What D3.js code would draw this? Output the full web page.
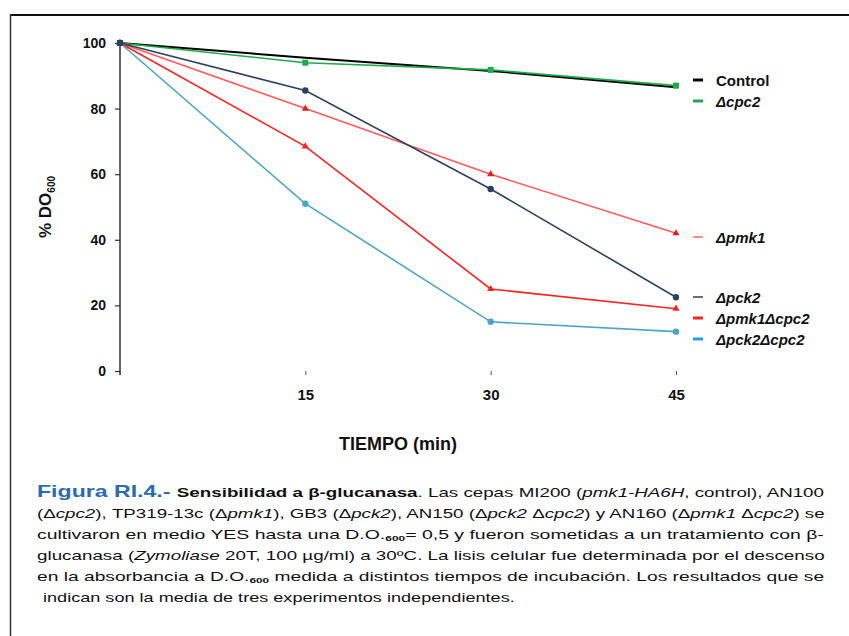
<!DOCTYPE html>
<html><head><meta charset="utf-8">
<script src="https://cdn.jsdelivr.net/npm/d3@7/dist/d3.min.js"></script>
<style>body{margin:0;background:#fff}svg{display:block}</style>
</head><body>
<script>
const times = [0, 15, 30, 45];
const xTickLabels = [15, 30, 45];
const yTicks = [0, 20, 40, 60, 80, 100];
const seriesNames = ["Control", "Δcpc2", "Δpmk1", "Δpck2", "Δpmk1Δcpc2", "Δpck2Δcpc2"];
const control = [100, 95.5, 91.5, 86.5];
const cpc2 = [100, 94, 91.8, 87];
const pmk1 = [100, 80, 60, 42];
const pck2 = [100, 85.5, 55.5, 22.5];
const pmk1cpc2 = [100, 68.5, 25, 19];
const pck2cpc2 = [100, 51, 15, 12];
const seriesValues = [control, cpc2, pmk1, pck2, pmk1cpc2, pck2cpc2];
const lineColors = ["#000000", "#1faa4a", "#ff5a5a", "#2c4360", "#ff2020", "#4aa6c6"];
const legendColors = ["#000000", "#1faa4a", "#ff6a6a", "#2c4360", "#ff2020", "#14a8e6"];
const markerShapes = ["none", "square", "triangle", "circle", "triangle", "circle"];

const W = 849, H = 636;
const svg = d3.select("body").append("svg").attr("width", W).attr("height", H);

// frame
svg.append("line").attr("x1", 10).attr("x2", W).attr("y1", 15).attr("y2", 15).attr("stroke", "#111").attr("stroke-width", 2.2);
svg.append("line").attr("x1", 10.5).attr("x2", 10.5).attr("y1", 14).attr("y2", H).attr("stroke", "#333").attr("stroke-width", 1.5);

const x = d3.scaleLinear().domain([0, 45]).range([120, 676]);
const y = d3.scaleLinear().domain([0, 100]).range([371, 43]);

// y axis
const yAx = svg.append("g").attr("transform", "translate(120,0)")
  .call(d3.axisLeft(y).tickValues(yTicks).tickSize(5).tickPadding(9).tickFormat(d3.format("d")));
yAx.select(".domain").attr("stroke", "#333").attr("stroke-width", 1.5).attr("d", `M0,${y(100)}V${y(0)+4}`);
yAx.selectAll(".tick line").attr("stroke", "#333").attr("stroke-width", 1.2);
yAx.selectAll("text").attr("font-family", "Liberation Sans, Arial, sans-serif").attr("font-weight", "bold").attr("font-size", 14).attr("fill", "#111");

// x axis (ticks only)
const xAx = svg.append("g").attr("transform", `translate(0,${y(0)})`)
  .call(d3.axisBottom(x).tickValues(times).tickSize(4).tickPadding(14).tickFormat(d => xTickLabels.includes(d) ? d : ""));
xAx.select(".domain").remove();
xAx.selectAll(".tick line").attr("stroke", "#555").attr("stroke-width", 1);
xAx.selectAll("text").attr("font-family", "Liberation Sans, Arial, sans-serif").attr("font-weight", "bold").attr("font-size", 15).attr("fill", "#111");

// axis titles
const yt = svg.append("text").attr("transform", "translate(51,207) rotate(-90)")
  .attr("text-anchor", "middle").attr("font-family", "Liberation Sans, Arial, sans-serif")
  .attr("font-weight", "bold").attr("font-size", 17).attr("fill", "#111");
yt.append("tspan").text("% DO");
yt.append("tspan").attr("font-size", 10).attr("dy", 4).text("600");

svg.append("text").attr("x", 398).attr("y", 450).attr("text-anchor", "middle")
  .attr("font-family", "Liberation Sans, Arial, sans-serif").attr("font-weight", "bold")
  .attr("font-size", 18).attr("fill", "#111").text("TIEMPO (min)");

// lines
const line = d3.line().x((d, i) => x(times[i])).y(d => y(d));
seriesValues.forEach((vals, s) => {
  svg.append("path").datum(vals).attr("d", line).attr("fill", "none")
    .attr("stroke", lineColors[s]).attr("stroke-width", s === 0 ? 2 : 1.6);
});
// markers
seriesValues.forEach((vals, s) => {
  const shape = markerShapes[s];
  if (shape === "none") return;
  const g = svg.append("g");
  vals.forEach((v, i) => {
    const cx = x(times[i]), cy = y(v);
    if (shape === "square") g.append("rect").attr("x", cx - 3).attr("y", cy - 3).attr("width", 6).attr("height", 6).attr("fill", lineColors[s]);
    else if (shape === "circle") g.append("circle").attr("cx", cx).attr("cy", cy).attr("r", 3.2).attr("fill", lineColors[s]);
    else g.append("path").attr("d", d3.symbol(d3.symbolTriangle, 22)()).attr("transform", `translate(${cx},${cy})`).attr("fill", s === 2 ? "#d22" : lineColors[s]);
  });
});
// start marker
svg.append("rect").attr("x", x(0) - 3).attr("y", y(100) - 3).attr("width", 6).attr("height", 6).attr("fill", "#2c4360");

// legend
const legY = [80, 101, 237, 297, 318, 339];
const legFont = "Liberation Sans, Arial, sans-serif";
seriesNames.forEach((n, i) => {
  svg.append("line").attr("x1", 693).attr("x2", 703).attr("y1", legY[i]).attr("y2", legY[i])
    .attr("stroke", legendColors[i]).attr("stroke-width", i === 0 || i === 1 || i === 4 || i === 5 ? 3 : 1.5);
  svg.append("text").attr("x", 716).attr("y", legY[i] + 5.5)
    .attr("font-family", legFont).attr("font-weight", "bold").attr("font-size", 15)
    .attr("font-style", i === 0 ? "normal" : "italic").attr("fill", "#111").text(n);
});

// caption
const capLines = [
  [["Figura RI.4.- ", "bold", "normal", "#2b6cb0", 16], ["Sensibilidad a β-glucanasa", "bold", "normal", "#111"], [". Las cepas MI200 (", "normal", "normal"], ["pmk1-HA6H", "normal", "italic"], [", control), AN100", "normal", "normal"]],
  [["(Δ", "normal", "normal"], ["cpc2", "normal", "italic"], ["), TP319-13c (Δ", "normal", "normal"], ["pmk1", "normal", "italic"], ["), GB3 (Δ", "normal", "normal"], ["pck2", "normal", "italic"], ["), AN150 (Δ", "normal", "normal"], ["pck2", "normal", "italic"], [" Δ", "normal", "normal"], ["cpc2", "normal", "italic"], [") y AN160 (Δ", "normal", "normal"], ["pmk1", "normal", "italic"], [" Δ", "normal", "normal"], ["cpc2", "normal", "italic"], [") se", "normal", "normal"]],
  [["cultivaron en medio YES hasta una D.O.", "normal", "normal"], ["600", "bold", "normal", null, 8, 2], ["= 0,5 y fueron sometidas a un tratamiento con β-", "normal", "normal", null, null, -2]],
  [["glucanasa (", "normal", "normal"], ["Zymoliase", "normal", "italic"], [" 20T, 100 µg/ml) a 30ºC. La lisis celular fue determinada por el descenso", "normal", "normal"]],
  [["en la absorbancia a D.O.", "normal", "normal"], ["600", "bold", "normal", null, 8, 2], [" medida a distintos tiempos de incubación. Los resultados que se", "normal", "normal", null, null, -2]],
  [["indican son la media de tres experimentos independientes.", "normal", "normal"]]
];
const capY = [497, 518, 539, 560, 581, 602];
const capFont = "'Liberation Sans Narrow', 'Liberation Sans', Arial, sans-serif";
capLines.forEach((parts, li) => {
  const g = svg.append("g").attr("transform", `translate(${li === 5 ? 43 : 37},${capY[li]})`);
  const t = g.append("text").attr("x", 0).attr("y", 0).attr("font-family", capFont).attr("font-size", 13).attr("fill", "#111");
  parts.forEach(p => {
    const ts = t.append("tspan").text(p[0]).attr("font-weight", p[1]).attr("font-style", p[2]);
    if (p[3]) ts.attr("fill", p[3]);
    if (p[4]) ts.attr("font-size", p[4]);
    if (p[5]) ts.attr("dy", p[5]);
  });
  if (li < 5) {
    const w = t.node().getComputedTextLength();
    const target = 825 - 37;
    g.attr("transform", `translate(37,${capY[li]}) scale(${target / w},1)`);
  } else {
    const w = t.node().getComputedTextLength();
    const target = 515 - 43;
    g.attr("transform", `translate(43,${capY[li]}) scale(${target / w},1)`);
  }
});
</script>
</body></html>
